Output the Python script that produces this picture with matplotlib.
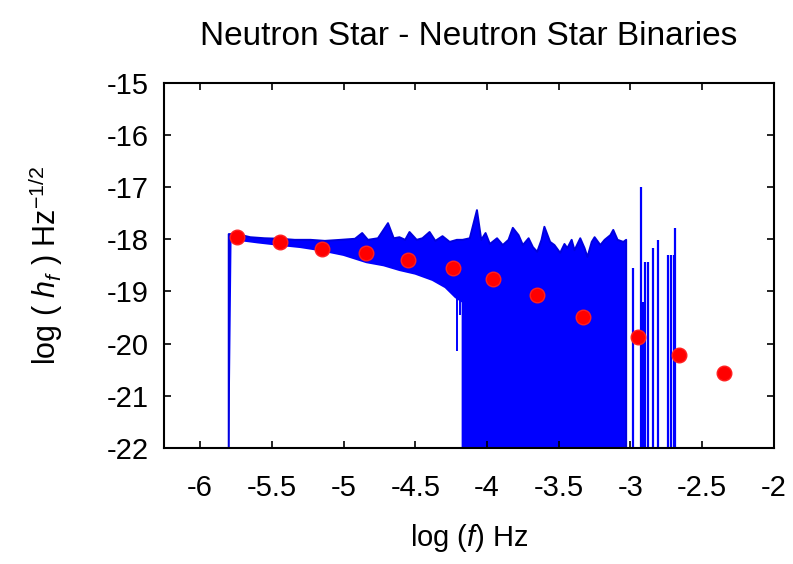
import numpy as np
import matplotlib
matplotlib.use("Agg")
import matplotlib.pyplot as plt

plt.rcParams["font.family"] = ["Liberation Sans", "DejaVu Sans"]
plt.rcParams["mathtext.fontset"] = "custom"
plt.rcParams["mathtext.it"] = "Liberation Sans:italic"
plt.rcParams["mathtext.rm"] = "Liberation Sans"
plt.rcParams["axes.unicode_minus"] = False

# binned spectrum (red dots)
DOT_LOGF = [-5.74, -5.44, -5.15, -4.84, -4.55, -4.24, -3.96, -3.65, -3.33, -2.95, -2.66, -2.35]
DOT_LOGH = [-17.95, -18.05, -18.19, -18.27, -18.40, -18.55, -18.77, -19.07, -19.49, -19.88, -20.22, -20.57]

# upper edge of the raw spectrum (blue)
UP_LOGF = [-5.80, -5.80, -5.74, -5.65, -5.55, -5.44, -5.34, -5.23, -5.13, -5.02, -4.92, -4.87,
           -4.83, -4.76, -4.69, -4.65, -4.61, -4.57, -4.54, -4.49, -4.45, -4.40, -4.36, -4.31,
           -4.26, -4.21, -4.17, -4.12, -4.07, -4.04, -4.01, -3.98, -3.93, -3.89, -3.85, -3.82,
           -3.78, -3.75, -3.71, -3.68, -3.65, -3.62, -3.60, -3.56, -3.53, -3.49, -3.46, -3.44,
           -3.41, -3.39, -3.35, -3.32, -3.30, -3.27, -3.25, -3.21, -3.18, -3.14, -3.12, -3.09,
           -3.05, -3.03, -3.03]
UP_LOGH = [-23.0, -17.90, -17.90, -17.96, -17.98, -17.99, -18.01, -18.01, -18.03, -18.01, -17.99, -17.88,
           -18.01, -17.98, -17.69, -17.98, -17.96, -18.01, -17.86, -18.01, -17.98, -17.86, -18.03, -17.94,
           -18.05, -18.01, -18.01, -17.98, -17.44, -18.01, -17.88, -18.09, -17.98, -18.11, -18.01, -17.78,
           -17.92, -18.11, -17.98, -18.15, -18.24, -18.01, -17.76, -18.05, -18.11, -18.26, -18.09, -18.17,
           -18.01, -18.21, -17.98, -18.17, -18.34, -18.05, -17.96, -18.11, -18.01, -17.92, -17.82, -18.01,
           -18.05, -18.01, -23.0]

# lower edge of the raw spectrum
LOW_LOGF = [-5.78, -5.74, -5.60, -5.44, -5.30, -5.16, -5.00, -4.84, -4.72, -4.61, -4.50,
            -4.38, -4.29, -4.22, -4.17, -4.17, -3.03]
LOW_LOGH = [-17.95, -18.01, -18.06, -18.11, -18.15, -18.21, -18.30, -18.44, -18.50, -18.59, -18.66,
            -18.78, -18.92, -19.11, -19.20, -23.0, -23.0]

# isolated deep lines below the envelope
DIP_LOGF = [-4.21, -4.19]
DIP_TOP = [-19.05, -19.15]
DIP_BOT = [-20.15, -19.45]

# sparse lines past the dense block
TAIL_LOGF = [-2.98, -2.93, -2.91, -2.90, -2.88, -2.84, -2.81, -2.74, -2.72, -2.70, -2.69]
TAIL_TOP = [-18.55, -17.00, -19.20, -18.44, -18.44, -18.17, -18.01, -18.30, -18.30, -18.30, -17.78]

XTICKS = [-6, -5.5, -5, -4.5, -4, -3.5, -3, -2.5, -2]
YTICKS = [-15, -16, -17, -18, -19, -20, -21, -22]

fig = plt.figure(figsize=(7.93, 5.64), dpi=100)
ax = fig.add_axes([0.207, 0.206, 0.769, 0.647])

blue = "#0000ff"
ax.fill(np.concatenate([UP_LOGF, LOW_LOGF[::-1]]),
        np.concatenate([UP_LOGH, LOW_LOGH[::-1]]), color=blue, lw=0)
ax.plot(UP_LOGF, UP_LOGH, color="#0000e0", lw=1.4)
ax.plot(LOW_LOGF, LOW_LOGH, color=blue, lw=1.4)
ax.vlines(DIP_LOGF, DIP_BOT, DIP_TOP, color=blue, lw=1.4)
ax.vlines(TAIL_LOGF, -23.0, TAIL_TOP, color=blue, lw=1.6)

ax.plot(DOT_LOGF, DOT_LOGH, "o", color="#ff0000", ms=10.5, mec="#ff2020", zorder=5)

ax.set_xlim(-6.25, -2)
ax.set_ylim(-22, -15)
ax.set_xticks(XTICKS)
ax.set_xticklabels([f"{t:g}" for t in XTICKS])
ax.set_yticks(YTICKS)
ax.tick_params(direction="in", length=5, width=1.2, top=True, right=True, labelsize=21)
ax.tick_params(axis="x", pad=19)
ax.tick_params(axis="y", pad=11)
for s in ax.spines.values():
    s.set_linewidth(1.5)

ax.set_title("Neutron Star - Neutron Star Binaries", fontsize=24, pad=27)
ax.set_xlabel("log ($f$) Hz", fontsize=21, labelpad=14)
ax.set_ylabel("log ( $h_f$ ) Hz$^{-1/2}$", fontsize=22, labelpad=30)

fig.savefig("out.png", dpi=100)
